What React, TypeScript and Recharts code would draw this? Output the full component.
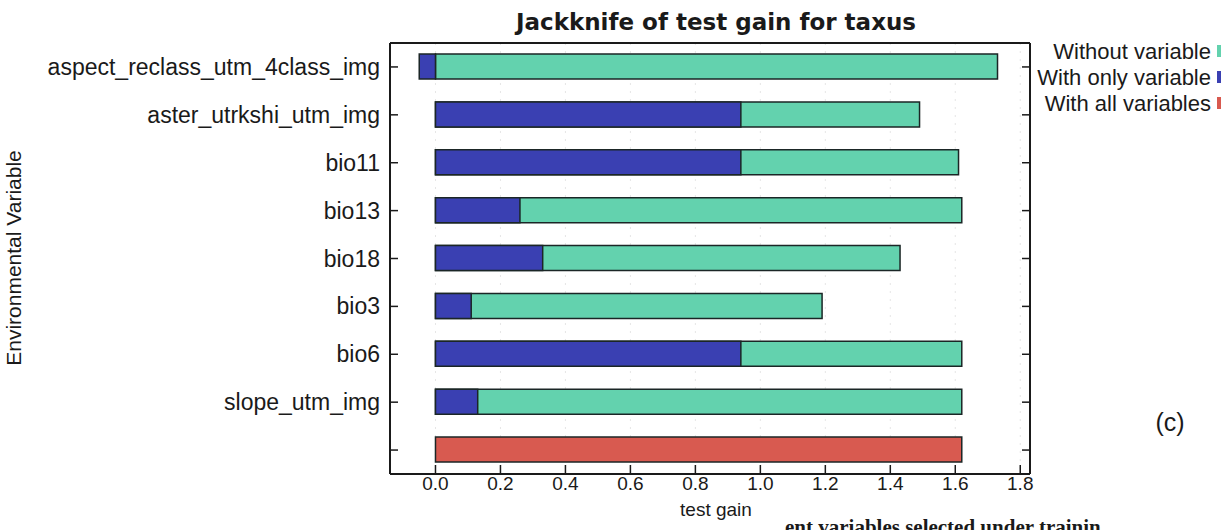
import { BarChart, Bar, XAxis, YAxis, CartesianGrid, Cell } from "recharts"

const variables = [
  "aspect_reclass_utm_4class_img",
  "aster_utrkshi_utm_img",
  "bio11",
  "bio13",
  "bio18",
  "bio3",
  "bio6",
  "slope_utm_img",
]
const withoutVariable = [1.73, 1.49, 1.61, 1.62, 1.43, 1.19, 1.62, 1.62]
const withOnlyVariable = [-0.05, 0.94, 0.94, 0.26, 0.33, 0.11, 0.94, 0.13]
const withAllVariables = 1.62
const gainTicks = [0, 0.2, 0.4, 0.6, 0.8, 1.0, 1.2, 1.4, 1.6, 1.8]

const rows = [
  ...variables.map((name, i) => ({ name, without: withoutVariable[i], only: withOnlyVariable[i] })),
  { name: "", without: withAllVariables, only: null },
]

const TEAL = "#63d2ae"
const BLUE = "#3a40b2"
const RED = "#d85a50"
const EDGE = "#1b2626"
const INK = "#1a1a1a"
const FONT = "'Liberation Sans', Arial, sans-serif"

const BottomTick = ({ x, y, payload }: any) => (
  <g>
    <line x1={x} y1={y} x2={x} y2={y - 9} stroke={INK} strokeWidth={1.5} />
    <text x={x} y={y + 16} textAnchor="middle" fontSize={19} fontFamily={FONT} fill={INK}>
      {Number(payload.value).toFixed(1)}
    </text>
  </g>
)

const TopTick = ({ x, y }: any) => (
  <line x1={x} y1={y} x2={x} y2={y + 9} stroke={INK} strokeWidth={1.5} />
)

const LeftTick = ({ x, y, payload }: any) => (
  <g>
    <line x1={x} y1={y} x2={x + 8} y2={y} stroke={INK} strokeWidth={1.5} />
    <text x={x - 10} y={y + 8} textAnchor="end" fontSize={23} fontFamily={FONT} fill={INK}>
      {payload.value}
    </text>
  </g>
)

const RightTick = ({ x, y }: any) => (
  <line x1={x} y1={y} x2={x - 8} y2={y} stroke={INK} strokeWidth={1.5} />
)

const legendItems = [
  { label: "Without variable", color: TEAL },
  { label: "With only variable", color: BLUE },
  { label: "With all variables", color: RED },
]

export default function App() {
  return (
    <div style={{ position: "absolute", left: 0, top: 0, width: 1221, height: 530, background: "#fff", overflow: "hidden" }}>
      <BarChart
        width={1221}
        height={530}
        data={rows}
        layout="vertical"
        margin={{ top: 42, right: 190, left: 0, bottom: 0 }}
        barSize={25}
        barGap={-25}
      >
        <CartesianGrid xAxisId="bottom" yAxisId="left" horizontal={false} stroke="#e6e6e6" strokeDasharray="2 6" />
        <XAxis
          xAxisId="bottom"
          type="number"
          domain={[-0.14, 1.83]}
          ticks={gainTicks}
          height={56}
          tickSize={0}
          tickMargin={0}
          tickLine={false}
          axisLine={{ stroke: INK, strokeWidth: 2 }}
          tick={<BottomTick />}
          interval={0}
        />
        <XAxis
          xAxisId="top"
          orientation="top"
          type="number"
          domain={[-0.14, 1.83]}
          ticks={gainTicks}
          height={1}
          tickSize={0}
          tickMargin={0}
          tickLine={false}
          axisLine={{ stroke: INK, strokeWidth: 2 }}
          tick={<TopTick />}
          interval={0}
        />
        <YAxis
          yAxisId="left"
          type="category"
          dataKey="name"
          width={390}
          tickSize={0}
          tickMargin={0}
          tickLine={false}
          axisLine={{ stroke: INK, strokeWidth: 2 }}
          tick={<LeftTick />}
          interval={0}
        />
        <YAxis
          yAxisId="right"
          orientation="right"
          type="category"
          dataKey="name"
          width={1}
          tickSize={0}
          tickMargin={0}
          tickLine={false}
          axisLine={{ stroke: INK, strokeWidth: 2 }}
          tick={<RightTick />}
          interval={0}
        />
        <Bar xAxisId="bottom" yAxisId="left" dataKey="without" fill={TEAL} stroke={EDGE} strokeWidth={1.5} isAnimationActive={false}>
          {rows.map((r, i) => (
            <Cell key={i} fill={r.only === null ? RED : TEAL} />
          ))}
        </Bar>
        <Bar xAxisId="bottom" yAxisId="left" dataKey="only" fill={BLUE} stroke={EDGE} strokeWidth={1.5} isAnimationActive={false} />
      </BarChart>

      <svg width={1221} height={530} style={{ position: "absolute", left: 0, top: 0, pointerEvents: "none" }}>
        <text x={716} y={30} textAnchor="middle" fontSize={23} fontWeight="bold" fontFamily="'DejaVu Sans', sans-serif" fill={INK}>
          Jackknife of test gain for taxus
        </text>
        <text
          x={0}
          y={0}
          transform="translate(21 258) rotate(-90)"
          textAnchor="middle"
          fontSize={21}
          fontFamily={FONT}
          fill={INK}
        >
          Environmental Variable
        </text>
        <text x={716} y={516} textAnchor="middle" fontSize={19} fontFamily={FONT} fill={INK}>
          test gain
        </text>
        {legendItems.map((it, i) => (
          <g key={it.label}>
            <text x={1211} y={59 + i * 26} textAnchor="end" fontSize={22} fontFamily={FONT} fill={INK}>
              {it.label}
            </text>
            <rect x={1217} y={45 + i * 26} width={10} height={12} fill={it.color} />
          </g>
        ))}
        <text x={1170} y={431} textAnchor="middle" fontSize={25} fontFamily={FONT} fill={INK}>
          (c)
        </text>
        <text x={785} y={534} fontSize={21} fontWeight="bold" fontFamily="'Liberation Serif', serif" fill={INK}>
          ent variables selected under trainin
        </text>
      </svg>
    </div>
  )
}
